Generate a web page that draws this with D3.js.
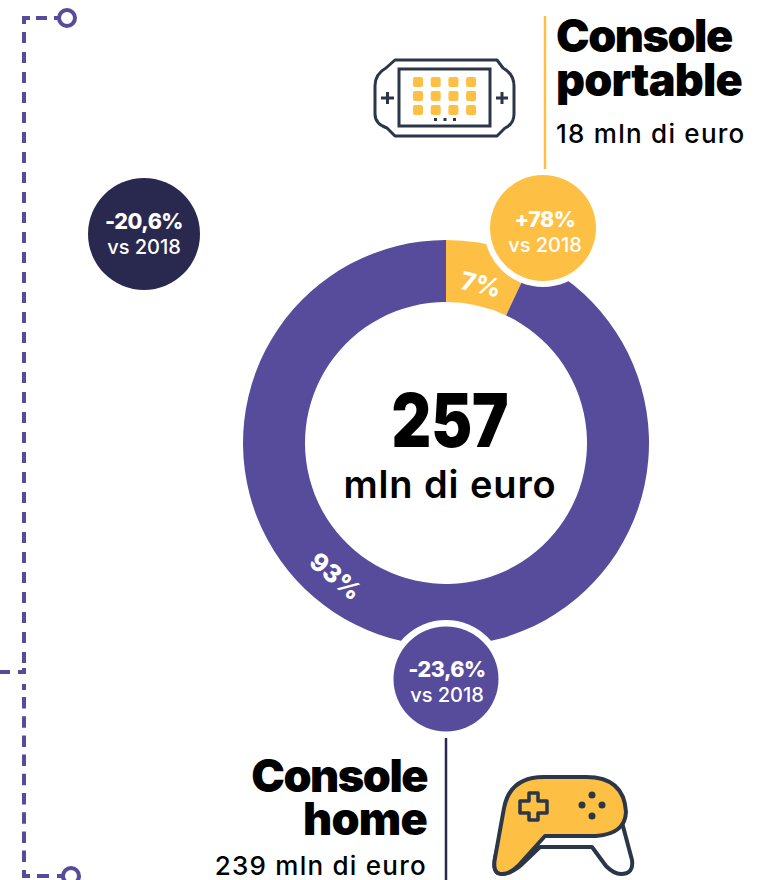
<!DOCTYPE html>
<html>
<head>
<meta charset="utf-8">
<script src="https://cdn.jsdelivr.net/npm/d3@7"></script>
<style>
  html, body { margin: 0; padding: 0; background: #fff; }
  svg { display: block; }
  text { font-family: Inter, Lato, sans-serif; }
</style>
</head>
<body>
<svg id="chart" width="762" height="880"></svg>
<script>
// Data
var categories = ["Console portable", "Console home"];
var values = [18, 239];
var shareLabels = ["7%", "93%"];
var amountLabels = ["18 mln di euro", "239 mln di euro"];
var changeLabels = ["+78%", "-23,6%"];
var totalValue = "257";
var totalUnit = "mln di euro";
var totalChange = "-20,6%";
var compareLabel = "vs 2018";

var purple = "#564c9b", yellow = "#fdc045", navy = "#29284f", iconLine = "#2b3648";

var svg = d3.select("#chart");
var cx = 446, cy = 443;

var color = d3.scaleOrdinal().domain(categories).range([yellow, purple]);

// Dashed bracket on the left
var bracket = svg.append("g")
    .attr("fill", "none")
    .attr("stroke", purple)
    .attr("stroke-width", 4);

bracket.append("path").attr("d", "M24,32V664").attr("stroke-dasharray", "11 9");
bracket.append("path").attr("d", "M24,684V690").attr("stroke-dasharray", "6 100");
bracket.append("path").attr("d", "M24,697V864").attr("stroke-dasharray", "11.5 7.7");
bracket.append("path").attr("d", "M30,18H24V24");
bracket.append("path").attr("d", "M18,672H24V668");
bracket.append("path").attr("d", "M24,870V876H30");
bracket.append("path").attr("d", "M0,672H10");
bracket.append("path").attr("d", "M36,18H47M54,18H59");
bracket.append("path").attr("d", "M37,876H49M57,876H62");
bracket.append("circle").attr("cx", 67).attr("cy", 18).attr("r", 8).attr("fill", "#fff");
bracket.append("circle").attr("cx", 71).attr("cy", 876).attr("r", 8).attr("fill", "#fff");

// Donut
var pie = d3.pie().sort(null).value(function (d) { return d.value; });
var arc = d3.arc().innerRadius(141).outerRadius(203);

var slices = pie(categories.map(function (c, i) {
    return { name: c, value: values[i], share: shareLabels[i] };
}));

var donut = svg.append("g").attr("transform", "translate(" + cx + "," + cy + ")");

donut.selectAll("path")
    .data(slices)
    .enter().append("path")
    .attr("d", arc)
    .attr("fill", function (d) { return color(d.data.name); });

// Share labels sit on the ring, turned with it
var labelAt = [[33, -150], [-116, 140]];

donut.selectAll("text.share")
    .data(slices)
    .enter().append("text")
    .attr("class", "share")
    .attr("transform", function (d, i) {
        return "translate(" + labelAt[i][0] + "," + labelAt[i][1] + ") rotate(" + (i === 0 ? 13 : 40) + ")";
    })
    .attr("text-anchor", "middle")
    .attr("fill", "#fff")
    .attr("font-size", 25)
    .attr("font-weight", 800)
    .text(function (d) { return d.data.share; });

// Centre total, squeezed a little since Inter digits run wide
svg.append("text")
    .attr("transform", "translate(450,447) scale(0.83,1)")
    .attr("text-anchor", "middle")
    .attr("font-size", 74)
    .attr("font-weight", 900)
    .attr("fill", "#000")
    .text(totalValue);

svg.append("text")
    .attr("x", 450).attr("y", 498)
    .attr("text-anchor", "middle")
    .attr("font-size", 38)
    .attr("font-weight", 600)
    .attr("letter-spacing", 0.9)
    .attr("fill", "#000")
    .text(totalUnit);

// Change badges
var badges = [
    { x: 144, y: 234, r: 56, ring: 0, fill: navy, label: totalChange, textX: 0, textY: -5 },
    { x: 543, y: 228, r: 53, ring: 59, fill: yellow, label: changeLabels[0], textX: 2, textY: -1 },
    { x: 446, y: 679, r: 52.5, ring: 59, fill: purple, label: changeLabels[1], textX: 1, textY: -2 }
];

var badge = svg.append("g").selectAll("g")
    .data(badges)
    .enter().append("g")
    .attr("transform", function (d) { return "translate(" + d.x + "," + d.y + ")"; });

badge.append("circle").attr("r", function (d) { return d.ring; }).attr("fill", "#fff");
badge.append("circle").attr("r", function (d) { return d.r; }).attr("fill", function (d) { return d.fill; });

badge.append("text")
    .attr("x", function (d) { return d.textX; })
    .attr("y", function (d) { return d.textY; })
    .attr("text-anchor", "middle")
    .attr("fill", "#fff")
    .attr("font-size", 21.5)
    .attr("font-weight", 800)
    .attr("letter-spacing", -0.5)
    .text(function (d) { return d.label; });

badge.append("text")
    .attr("x", function (d) { return d.textX; })
    .attr("y", function (d) { return d.textY + 25; })
    .attr("text-anchor", "middle")
    .attr("fill", "#fff")
    .attr("font-size", 20)
    .attr("font-weight", 500)
    .text(compareLabel);

// Leader lines
svg.append("line").attr("x1", 545).attr("x2", 545).attr("y1", 16).attr("y2", 169)
    .attr("stroke", yellow).attr("stroke-width", 2.5);
svg.append("line").attr("x1", 446).attr("x2", 446).attr("y1", 738).attr("y2", 880)
    .attr("stroke", navy).attr("stroke-width", 2.5);

// Category titles
function title(x, anchor, lines, baselines, amount, amountY) {
    lines.forEach(function (t, i) {
        svg.append("text")
            .attr("x", x).attr("y", baselines[i])
            .attr("text-anchor", anchor)
            .attr("font-size", 45)
            .attr("font-weight", 900)
            .attr("letter-spacing", i === 0 ? -1.5 : -0.8)
            .attr("fill", "#000")
            .text(t);
    });
    svg.append("text")
        .attr("x", x).attr("y", amountY)
        .attr("text-anchor", anchor)
        .attr("font-size", 26)
        .attr("font-weight", 500)
        .attr("letter-spacing", 1.25)
        .attr("fill", "#000")
        .text(amount);
}

title(556, "start", ["Console", "portable"], [52, 96], amountLabels[0], 143);
title(427, "end", ["Console", "home"], [792, 835], amountLabels[1], 875);

// Portable console icon
var handheld = svg.append("g");

handheld.append("path")
    .attr("d", "M395,60H497L503,68Q514,74 514,86V114Q514,124 505,128L497,136H395L387,128Q375,124 375,114V86Q375,74 386,68Z")
    .attr("fill", "#fff").attr("stroke", iconLine).attr("stroke-width", 3).attr("stroke-linejoin", "round");
handheld.append("rect").attr("x", 399).attr("y", 69).attr("width", 91).attr("height", 57)
    .attr("fill", "#fff").attr("stroke", iconLine).attr("stroke-width", 3);
handheld.append("path")
    .attr("d", "M381,98H394M387.500,92V104M496,98H508M502,92V104")
    .attr("fill", "none").attr("stroke", iconLine).attr("stroke-width", 3);

d3.range(3).forEach(function (row) {
    d3.range(4).forEach(function (col) {
        handheld.append("rect")
            .attr("x", 413 + col * 17.7).attr("y", 77 + row * 14)
            .attr("width", 10).attr("height", 10).attr("rx", 2)
            .attr("fill", yellow);
    });
});
d3.range(3).forEach(function (i) {
    handheld.append("rect")
        .attr("x", 434 + i * 9.500).attr("y", 118)
        .attr("width", 3).attr("height", 3)
        .attr("fill", iconLine);
});

// Home console gamepad icon
var pad = svg.append("g")
    .attr("stroke", iconLine).attr("stroke-width", 4).attr("stroke-linejoin", "round");

pad.append("path")
    .attr("d", "M620,815L632,860Q634,874 621,874Q614,874 606,866L592,847H540L520,866Q510,874 502,874Q492,874 495,858L505,815Z")
    .attr("fill", "#fff");
pad.append("path")
    .attr("d", "M544,777H586Q624,777 626,812Q625,834 596,836H545L518,866Q510,874 502,874Q492,874 495,858L504,808Q510,777 544,777Z")
    .attr("fill", yellow);
pad.append("path")
    .attr("d", "M529,793H538V801H547V813H538V820H529V813H520V801H529Z")
    .attr("fill", "none").attr("stroke-width", 3.500);
pad.selectAll("circle")
    .data([[592, 795], [582, 805], [602, 805], [592, 816]])
    .enter().append("circle")
    .attr("cx", function (d) { return d[0]; })
    .attr("cy", function (d) { return d[1]; })
    .attr("r", 2.500)
    .attr("fill", iconLine)
    .attr("stroke-width", 2);
</script>
</body>
</html>
